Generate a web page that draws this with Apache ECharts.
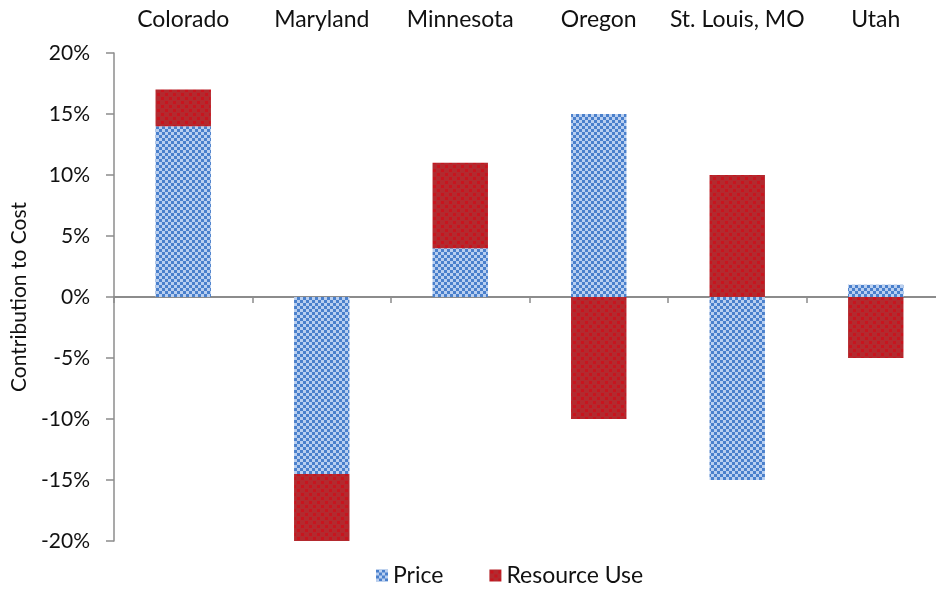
<!DOCTYPE html>
<html>
<head>
<meta charset="utf-8">
<script src="https://cdn.jsdelivr.net/npm/echarts@6/dist/echarts.min.js"></script>
<style>
  html, body { margin: 0; padding: 0; background: #fff; }
  #chart { width: 936px; height: 593px; }
</style>
</head>
<body>
<div id="chart"></div>
<script>
const categories = ['Colorado', 'Maryland', 'Minnesota', 'Oregon', 'St. Louis, MO', 'Utah']
const priceValues = [14, -14.5, 4, 15, -15, 1]
const resourceValues = [3, -5.5, 7, -10, 10, -5]
const yTicks = [-20, -15, -10, -5, 0, 5, 10, 15, 20]

// checkerboard fill for Price
const makeChecker = () => {
  const c = document.createElement('canvas')
  c.width = 6; c.height = 6
  const ctx = c.getContext('2d')
  ctx.fillStyle = '#b9cff0'
  ctx.fillRect(0, 0, 6, 6)
  ctx.fillStyle = '#4a80cc'
  ctx.fillRect(0, 0, 3, 3)
  ctx.fillRect(3, 3, 3, 3)
  return c
}

// dotted red fill for Resource Use
const makeDots = () => {
  const c = document.createElement('canvas')
  c.width = 8; c.height = 8
  const ctx = c.getContext('2d')
  ctx.fillStyle = '#b32a2f'
  ctx.fillRect(0, 0, 8, 8)
  ctx.fillStyle = '#c8141e'
  ctx.fillRect(1, 1, 3, 3)
  ctx.fillRect(5, 5, 3, 3)
  return c
}

const priceFill = { image: makeChecker(), repeat: 'repeat' }
const resourceFill = { image: makeDots(), repeat: 'repeat' }

const font = 'Lato, "Open Sans", sans-serif'
const chart = echarts.init(document.getElementById('chart'))

chart.setOption({
  animation: false,
  backgroundColor: '#fff',
  textStyle: { fontFamily: font },
  grid: { left: 114, right: -9, top: 53, bottom: 52, outerBoundsMode: 'none' },
  legend: {
    bottom: 1,
    left: 371,
    itemWidth: 12,
    itemHeight: 12,
    itemGap: 46,
    icon: 'rect',
    textStyle: { color: '#111', fontSize: 23, fontFamily: font },
    data: ['Price', 'Resource Use']
  },
  xAxis: [
    {
      type: 'category',
      data: categories,
      position: 'top',
      axisLine: { show: false, onZero: false },
      axisTick: { show: false },
      axisLabel: { color: '#111', fontSize: 23, margin: 22, interval: 0, fontFamily: font }
    },
    {
      type: 'category',
      data: categories,
      position: 'bottom',
      axisLine: { onZero: true, lineStyle: { color: '#8c8c8c', width: 2 } },
      axisTick: { show: true, length: 6, lineStyle: { color: '#8c8c8c', width: 1.5 } },
      axisLabel: { show: false }
    }
  ],
  yAxis: {
    type: 'value',
    min: -20,
    max: 20,
    interval: 5,
    name: 'Contribution to Cost',
    nameLocation: 'middle',
    nameGap: 84,
    nameTextStyle: { color: '#111', fontSize: 21, fontFamily: font },
    axisLine: { show: true, lineStyle: { color: '#8c8c8c', width: 1.5 } },
    axisTick: { show: true, length: 8, lineStyle: { color: '#8c8c8c', width: 1.5 } },
    axisLabel: {
      color: '#111',
      fontSize: 21,
      margin: 24,
      fontFamily: font,
      formatter: v => yTicks.includes(v) ? v + '%' : ''
    },
    splitLine: { show: false }
  },
  series: [
    {
      name: 'Price',
      type: 'bar',
      stack: 'cost',
      xAxisIndex: 0,
      barWidth: '40%',
      itemStyle: { color: priceFill },
      data: priceValues
    },
    {
      name: 'Resource Use',
      type: 'bar',
      stack: 'cost',
      xAxisIndex: 0,
      barWidth: '40%',
      itemStyle: { color: resourceFill },
      data: resourceValues
    }
  ]
})

window.addEventListener('resize', () => chart.resize())
</script>
</body>
</html>
